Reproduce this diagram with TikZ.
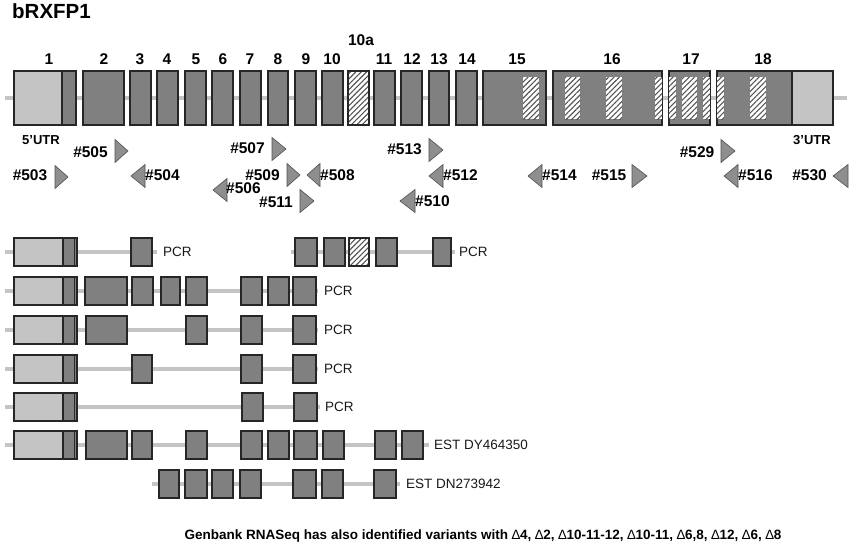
\documentclass[tikz,border=0pt]{standalone}
\usepackage{fontspec}
\setmainfont{Liberation Sans}
\usetikzlibrary{patterns.meta}
\definecolor{exfill}{HTML}{808080}
\definecolor{utrfill}{HTML}{C4C4C4}
\definecolor{introncol}{HTML}{C4C4C4}
\definecolor{edgecol}{HTML}{262626}
\definecolor{primcol}{HTML}{8E8E8E}
\definecolor{hatchcol}{HTML}{555555}
\tikzset{
  exon/.style={fill=exfill, draw=edgecol, line width=1.1pt},
  utr/.style={fill=utrfill, draw=edgecol, line width=1.1pt},
  hatchfill/.style={pattern={Lines[angle=45,distance=3.8pt,line width=1.1pt]}, pattern color=hatchcol},
  intronline/.style={draw=introncol, line width=4pt},
  primer/.style={fill=primcol, draw=edgecol!80, line width=0.6pt, line join=miter},
  lab/.style={font=\fontsize{15.5}{18}\selectfont\bfseries, inner sep=0pt},
  rowlab/.style={font=\fontsize{13.5}{16}\selectfont, inner sep=0pt, anchor=west, text=black!90},
}
\newcommand\exL[3]{\draw[exon] (#1,#3-14) rectangle (#2,#3+14);}
\newcommand\utrL[1]{\draw[utr] (14,#1-14) rectangle (63,#1+14); \draw[exon] (63,#1-14) rectangle (77,#1+14); \draw[edgecol, line width=0.8pt] (74,#1-14) -- (74,#1+14);}
\newcommand\hatchL[3]{\fill[white] (#1,#3-14) rectangle (#2,#3+14); \fill[hatchfill] (#1,#3-14) rectangle (#2,#3+14); \draw[edgecol, line width=1.1pt] (#1,#3-14) rectangle (#2,#3+14);}
\newcommand\prR[3]{\draw[primer] (#1,#3-11.5) -- (#2,#3) -- (#1,#3+11.5) -- cycle;}
\newcommand\prLft[3]{\draw[primer] (#2,#3-11.5) -- (#1,#3) -- (#2,#3+11.5) -- cycle;}
\begin{document}
\begin{tikzpicture}[x=1pt,y=-1pt]
\useasboundingbox (0,0) rectangle (851,546);
\fill[white] (0,0) rectangle (851,546);
% title
\node[font=\fontsize{20.5}{24}\selectfont\bfseries, inner sep=0pt, anchor=west] (title) at (12,11) {bRXFP1};
% main gene
\draw[intronline] (5,98) -- (847,98);
\draw[utr] (14,71) rectangle (62,125);
\draw[exon] (62,71) rectangle (76,125);
\foreach \a/\b in {83/124,130/151,157/178,185/206,212/233,240/261,268/288,295/316,322/343,374/395,401/422,429/449,456/477,483/546,553/662,669/710,717/792}
  {\draw[exon] (\a,71) rectangle (\b,125);}
\draw[utr] (792,71) rectangle (833,125);
\fill[white] (348,71) rectangle (369,125);
\fill[hatchfill] (348,71) rectangle (369,125);
\draw[edgecol, line width=1.1pt] (348,71) rectangle (369,125);
\foreach \a/\b in {523/539,565/580,606/622,655/662,669/676,682/697,703/710,717/724,750/766}
  {\fill[white] (\a,77) rectangle (\b,119); \fill[hatchfill] (\a,77) rectangle (\b,119);}
% exon numbers
\foreach \x/\t in {49/1,104/2,140/3,167/4,196/5,223/6,250/7,278/8,306/9,332/10,384/11,412/12,439/13,467/14,517/15,612/16,691/17,763/18}
  {\node[lab] (ex\t) at (\x,59) {\t};}
\node[lab] (ex10a) at (361,40) {10a};
\node[lab, font=\fontsize{13}{15}\selectfont\bfseries] (utr5) at (41,140) {5’UTR};
\node[lab, font=\fontsize{13}{15}\selectfont\bfseries] (utr3) at (812,140) {3’UTR};
% primers
\prR{115}{128}{151} \node[lab] (p505) at (90.5,152) {\#505};
\prR{55}{68}{177} \node[lab] (p503) at (30,175) {\#503};
\prLft{131}{145}{176} \node[lab, anchor=west] (p504) at (145,175) {\#504};
\prR{272}{286}{149} \node[lab] (p507) at (247.5,148) {\#507};
\prR{287}{300}{175} \node[lab] (p509) at (262.5,175) {\#509};
\prLft{307}{320}{175} \node[lab, anchor=west] (p508) at (320,175) {\#508};
\prLft{213}{227}{190} \node[lab, anchor=west] (p506) at (226,188) {\#506};
\prR{300}{314}{201} \node[lab] (p511) at (276,202) {\#511};
\prR{429}{443}{150} \node[lab] (p513) at (404.5,149) {\#513};
\prLft{429}{443}{176} \node[lab, anchor=west] (p512) at (443,175) {\#512};
\prLft{400}{415}{201} \node[lab, anchor=west] (p510) at (415,201) {\#510};
\prLft{528}{542}{176} \node[lab, anchor=west] (p514) at (542,175) {\#514};
\prR{632}{647}{176} \node[lab] (p515) at (609,175) {\#515};
\prR{721}{735}{151} \node[lab] (p529) at (697,152) {\#529};
\prLft{724}{738}{176} \node[lab, anchor=west] (p516) at (738,175) {\#516};
\prLft{833}{848}{176} \node[lab] (p530) at (809.5,175) {\#530};
% row 1
\draw[intronline] (5,252) -- (157,252);
\utrL{252}
\exL{131}{152}{252}
\node[rowlab] (r1a) at (163,252) {PCR};
\draw[intronline] (291,252) -- (455,252);
\exL{295}{317}{252} \exL{324}{345}{252} \hatchL{349}{369}{252} \exL{376}{397}{252} \exL{433}{451}{252}
\node[rowlab] (r1b) at (459,252) {PCR};
% row 2
\draw[intronline] (5,291) -- (318,291);
\utrL{291}
\foreach \a/\b in {85/127,132/153,161/180,186/207,241/262,268/289,293/316} {\exL{\a}{\b}{291}}
\node[rowlab] (r2) at (324,291) {PCR};
% row 3
\draw[intronline] (5,330) -- (318,330);
\utrL{330}
\foreach \a/\b in {86/127,186/207,241/262,293/316} {\exL{\a}{\b}{330}}
\node[rowlab] (r3) at (324,330) {PCR};
% row 4
\draw[intronline] (5,369) -- (318,369);
\utrL{369}
\foreach \a/\b in {132/152,241/262,293/316} {\exL{\a}{\b}{369}}
\node[rowlab] (r4) at (324,369) {PCR};
% row 5
\draw[intronline] (5,407) -- (320,407);
\utrL{407}
\foreach \a/\b in {242/263,294/317} {\exL{\a}{\b}{407}}
\node[rowlab] (r5) at (325,407) {PCR};
% row 6
\draw[intronline] (5,445) -- (429,445);
\utrL{445}
\foreach \a/\b in {86/127,132/152,186/207,241/262,268/289,294/317,323/344,375/396,402/423} {\exL{\a}{\b}{445}}
\node[rowlab] (r6) at (434,445) {EST DY464350};
% row 7
\draw[intronline] (152,484) -- (400,484);
\foreach \a/\b in {159/179,185/207,212/233,240/261,293/316,322/343,374/396} {\exL{\a}{\b}{484}}
\node[rowlab] (r7) at (406,484) {EST DN273942};
% bottom note
\node[font=\fontsize{13.5}{16}\selectfont\bfseries, inner sep=0pt] (note) at (483,536) {Genbank RNASeq has also identified variants with {\mdseries ∆}4, {\mdseries ∆}2, {\mdseries ∆}10-11-12, {\mdseries ∆}10-11, {\mdseries ∆}6,8, {\mdseries ∆}12, {\mdseries ∆}6, {\mdseries ∆}8};
\end{tikzpicture}
\end{document}
